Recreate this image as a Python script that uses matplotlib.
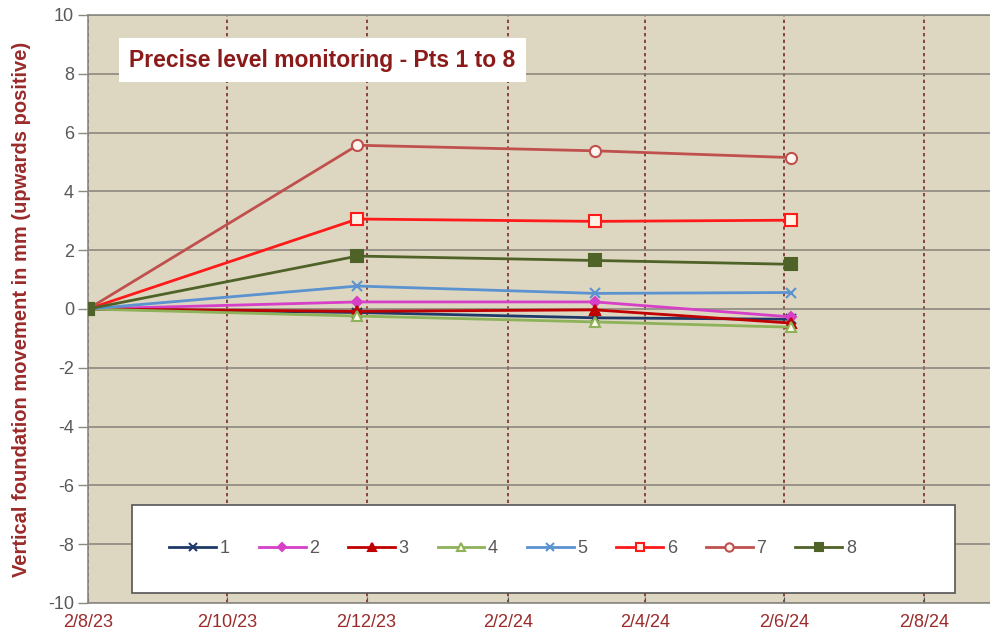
import datetime as dt
import matplotlib
matplotlib.use("Agg")
import matplotlib.pyplot as plt
import matplotlib.dates as mdates
from matplotlib.patches import Rectangle

plt.rcParams["font.family"] = ["Liberation Sans", "DejaVu Sans"]
plt.rcParams["axes.unicode_minus"] = False

# survey dates
dates = ["2023-08-02", "2023-11-28", "2024-03-11", "2024-06-05"]

# vertical movement (mm) per point
pt1 = [0, -0.12, -0.30, -0.35]
pt2 = [0, 0.24, 0.24, -0.27]
pt3 = [0, -0.08, -0.03, -0.48]
pt4 = [0, -0.24, -0.44, -0.62]
pt5 = [0, 0.78, 0.53, 0.56]
pt6 = [0, 3.06, 2.98, 3.02]
pt7 = [0, 5.57, 5.38, 5.15]
pt8 = [0, 1.80, 1.65, 1.52]

series_names = ["1", "2", "3", "4", "5", "6", "7", "8"]
tick_dates = ["2023-08-02", "2023-10-02", "2023-12-02", "2024-02-02",
              "2024-04-02", "2024-06-02", "2024-08-02"]
tick_labels = ["2/8/23", "2/10/23", "2/12/23", "2/2/24", "2/4/24", "2/6/24", "2/8/24"]

# (color, marker, markerfacecolor)
styles = [
    ("#1f3a68", "x", "#1f3a68"),
    ("#d63fc8", "D", "#d63fc8"),
    ("#c00000", "^", "#c00000"),
    ("#8db25a", "^", "#fffbe6"),
    ("#5b92d0", "x", "#5b92d0"),
    ("#ff1a1a", "s", "#fff3e6"),
    ("#c0504d", "o", "#fff6f0"),
    ("#4f6228", "s", "#4f6228"),
]

to_date = lambda s: dt.datetime.strptime(s, "%Y-%m-%d")
x = [to_date(d) for d in dates]

fig = plt.figure(figsize=(9.9, 6.38), dpi=100)
ax = fig.add_axes([0.0889, 0.0549, 0.9111, 0.9216])
ax.set_facecolor("#ddd7c1")

all_pts = [pt1, pt2, pt3, pt4, pt5, pt6, pt7, pt8]
ms = {"x": 7, "D": 5, "^": 7, "s": 8, "o": 8}
for name, vals, (c, m, fc) in zip(series_names, all_pts, styles):
    ax.plot(x, vals, color=c, lw=2.0, marker=m, markersize=ms[m],
            markerfacecolor=fc, markeredgecolor=c, markeredgewidth=1.5,
            label=name, zorder=3)

ax.set_ylim(-10, 10)
ax.set_yticks(range(-10, 11, 2))
ax.set_xlim(to_date("2023-08-02"), to_date("2024-08-31"))
ax.set_xticks([mdates.date2num(to_date(d)) for d in tick_dates])
ax.set_xticklabels(tick_labels)

ax.yaxis.grid(True, color="#85827a", lw=1.1, ls="-", zorder=0)
ax.xaxis.grid(True, color="#7a2a2a", lw=1.2, ls=(0, (2, 2)), zorder=0)
ax.set_axisbelow(True)

for s in ax.spines.values():
    s.set_color("#8a8a80")
    s.set_linewidth(1.2)
ax.spines["right"].set_visible(False)

ax.tick_params(axis="y", colors="#8a8a80", labelcolor="#595959", labelsize=13,
               length=7, width=1, direction="out", pad=3)
ax.tick_params(axis="x", labelcolor="#9b2b2b", color="#555555",
               labelsize=13, length=4, direction="in", pad=8)

ax.set_ylabel("Vertical foundation movement in mm (upwards positive)",
              color="#9b2b2b", fontsize=14.5, fontweight="bold", labelpad=12)

ax.text(0.26, 0.923, "Precise level monitoring - Pts 1 to 8",
        transform=ax.transAxes, ha="center", va="center", fontsize=16.5,
        fontweight="bold", color="#8b1a1a", zorder=5,
        bbox=dict(boxstyle="square,pad=0.45", fc="white", ec="none"))

# legend box
ax.add_patch(Rectangle((0.0488, 0.017), 0.9122, 0.1497, transform=ax.transAxes,
                       facecolor="white", edgecolor="#555555", lw=1.2, zorder=4))
leg = ax.legend(loc="center left", bbox_to_anchor=(0.072, 0.092), ncol=8,
                frameon=False, fontsize=13, handlelength=2.6, markerscale=0.75,
                columnspacing=1.6, handletextpad=0.2, labelcolor="#595959")
leg.set_zorder(6)

fig.savefig("out.png", dpi=100)
